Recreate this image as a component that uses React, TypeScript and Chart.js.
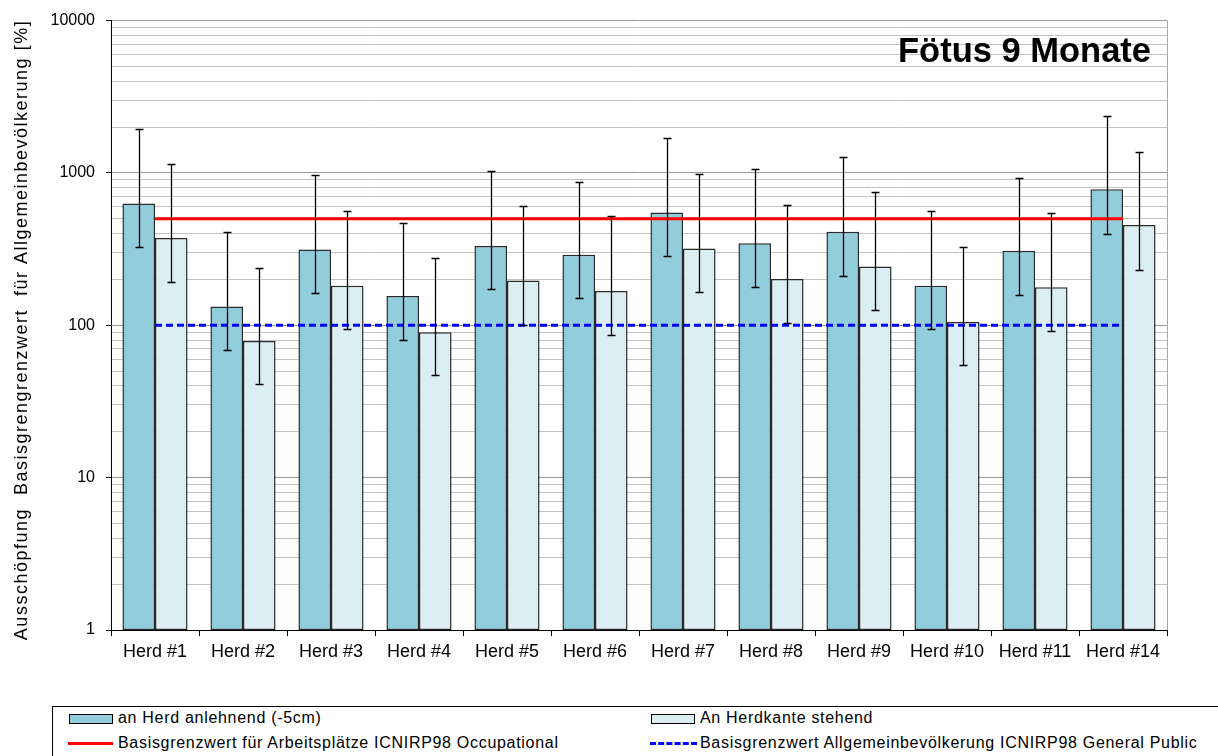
import React, { useEffect, useRef } from 'react';
import { Chart, registerables } from 'chart.js';

Chart.register(...registerables);

// ---- data ----
const categories = ['Herd #1', 'Herd #2', 'Herd #3', 'Herd #4', 'Herd #5', 'Herd #6', 'Herd #7', 'Herd #8', 'Herd #9', 'Herd #10', 'Herd #11', 'Herd #14'];

const anlehnend = [630, 133, 314, 156, 332, 290, 550, 345, 411, 182, 308, 782];
const anlehnendHigh = [1950, 411, 966, 471, 1025, 877, 1694, 1067, 1273, 562, 933, 2360];
const anlehnendLow = [325, 69, 162, 80, 172, 150, 284, 178, 212, 94, 159, 397];

const kante = [374, 79, 182, 90, 197, 168, 319, 201, 243, 105, 178, 455];
const kanteHigh = [1150, 239, 562, 278, 608, 521, 990, 618, 751, 325, 550, 1371];
const kanteLow = [193, 41, 94, 47, 101, 87, 165, 103, 126, 55, 92, 230];

const occupationalLimit = [500, 500, 500, 500, 500, 500, 500, 500, 500, 500, 500, 500];
const generalPublicLimit = [100, 100, 100, 100, 100, 100, 100, 100, 100, 100, 100, 100];

const yMajorTicks = [1, 10, 100, 1000, 10000];
const yMinorMultipliers = [2, 3, 4, 5, 6, 7, 8, 9];

const chartTitle = 'Fötus 9 Monate';
const yAxisTitle = 'Ausschöpfung  Basisgrengrenzwert  für Allgemeinbevölkerung [%]';
const labelAnlehnend = 'an Herd anlehnend (-5cm)';
const labelKante = 'An Herdkante stehend';
const labelOccupational = 'Basisgrenzwert für Arbeitsplätze ICNIRP98 Occupational';
const labelGeneral = 'Basisgrenzwert Allgemeinbevölkerung ICNIRP98 General Public';

const COLOR_DARK = '#92CDDC';
const COLOR_LIGHT = '#DAEEF3';
const FONT = '"Liberation Sans", Arial, Helvetica, sans-serif';

const isMajor = (v: number) => yMajorTicks.includes(v);

const errorBarPlugin = {
  id: 'errorBars',
  afterDatasetsDraw(chart: any) {
    const ctx = chart.ctx;
    const y = chart.scales.y;
    const sets: [number, number[], number[]][] = [
      [0, anlehnendHigh, anlehnendLow],
      [1, kanteHigh, kanteLow],
    ];
    ctx.save();
    ctx.strokeStyle = '#000';
    ctx.lineWidth = 1.3;
    sets.forEach(([di, his, los]) => {
      const meta = chart.getDatasetMeta(di);
      meta.data.forEach((bar: any, i: number) => {
        const x = Math.round(bar.x) + 0.5;
        const yt = Math.round(y.getPixelForValue(his[i])) + 0.5;
        const yb = Math.round(y.getPixelForValue(los[i])) + 0.5;
        ctx.beginPath();
        ctx.moveTo(x, yt);
        ctx.lineTo(x, yb);
        ctx.moveTo(x - 4, yt);
        ctx.lineTo(x + 4, yt);
        ctx.moveTo(x - 4, yb);
        ctx.lineTo(x + 4, yb);
        ctx.stroke();
      });
    });
    ctx.restore();
  },
};

const decorPlugin = {
  id: 'decor',
  afterDraw(chart: any) {
    const ctx = chart.ctx;
    const a = chart.chartArea;
    ctx.save();
    // right border of plot area
    ctx.strokeStyle = '#a6a6a6';
    ctx.lineWidth = 1;
    ctx.beginPath();
    ctx.moveTo(Math.round(a.right) + 0.5, a.top);
    ctx.lineTo(Math.round(a.right) + 0.5, a.bottom);
    ctx.stroke();
    // title inside plot
    ctx.fillStyle = '#000';
    ctx.font = `bold 34.5px ${FONT}`;
    ctx.textAlign = 'left';
    ctx.textBaseline = 'alphabetic';
    ctx.fillText(chartTitle, 898, 62);
    // y axis title
    ctx.translate(22, 330);
    ctx.rotate(-Math.PI / 2);
    ctx.font = `18px ${FONT}`;
    (ctx as any).letterSpacing = '1.5px';
    ctx.textAlign = 'center';
    ctx.textBaseline = 'middle';
    ctx.fillText(yAxisTitle, 0, 0);
    ctx.restore();
  },
};

function LegendSwatch({ color }: { color: string }) {
  return (
    <div style={{ position: 'absolute', width: 44, height: 10, background: color, border: '1px solid #000', boxSizing: 'border-box' }} />
  );
}

export default function App() {
  const canvasRef = useRef<HTMLCanvasElement | null>(null);

  useEffect(() => {
    const canvas = canvasRef.current;
    if (!canvas) return;
    const yTickValues: number[] = [];
    yMajorTicks.forEach((m) => {
      yTickValues.push(m);
      if (m < 10000) yMinorMultipliers.forEach((k) => yTickValues.push(m * k));
    });
    yTickValues.sort((p, q) => p - q);

    const barCommon = {
      type: 'bar',
      borderColor: '#2a2a2a',
      borderWidth: 1.5,
      borderSkipped: false,
      categoryPercentage: 0.74,
      barPercentage: 1,
      order: 2,
    };

    const chart = new Chart(canvas, {
      type: 'bar',
      data: {
        labels: categories,
        datasets: [
          { ...barCommon, label: labelAnlehnend, data: anlehnend, backgroundColor: COLOR_DARK } as any,
          { ...barCommon, label: labelKante, data: kante, backgroundColor: COLOR_LIGHT } as any,
          {
            type: 'line',
            label: labelOccupational,
            data: occupationalLimit,
            borderColor: '#FF0000',
            borderWidth: 3,
            pointRadius: 0,
            fill: false,
            order: 1,
          } as any,
          {
            type: 'line',
            label: labelGeneral,
            data: generalPublicLimit,
            borderColor: '#0000FF',
            borderWidth: 3,
            borderDash: [7, 4],
            pointRadius: 0,
            fill: false,
            order: 1,
          } as any,
        ],
      },
      options: {
        animation: false,
        responsive: false,
        events: [],
        layout: { padding: { left: 0, right: 51, top: 18, bottom: 0 } },
        plugins: {
          legend: { display: false },
          tooltip: { enabled: false },
          title: { display: false },
        },
        scales: {
          x: {
            type: 'category',
            offset: true,
            border: { color: '#000', width: 1 },
            grid: {
              offset: true,
              drawOnChartArea: false,
              drawTicks: true,
              tickLength: 6,
              tickColor: '#000',
              color: '#000',
            },
            ticks: {
              color: '#000',
              font: { family: FONT, size: 18 },
              padding: 5,
              autoSkip: false,
              maxRotation: 0,
              minRotation: 0,
            },
            afterFit: (scale: any) => {
              scale.height = 60;
            },
          },
          y: {
            type: 'logarithmic',
            min: 1,
            max: 10000,
            border: { color: '#000', width: 1 },
            grid: {
              color: (c: any) => (isMajor(c.tick?.value) ? '#999999' : '#c2c2c2'),
              tickColor: (c: any) => (isMajor(c.tick?.value) ? '#000' : 'rgba(0,0,0,0)'),
              tickLength: 5,
              drawTicks: true,
            },
            ticks: {
              color: '#000',
              font: { family: FONT, size: 16 },
              padding: 11,
              autoSkip: false,
              callback: (v: any) => (isMajor(Number(v)) ? String(v) : ''),
            },
            afterBuildTicks: (scale: any) => {
              scale.ticks = yTickValues.map((v) => ({ value: v, major: isMajor(v) }));
            },
            afterFit: (scale: any) => {
              scale.width = 111;
            },
          },
        },
      } as any,
      plugins: [errorBarPlugin, decorPlugin],
    });
    return () => chart.destroy();
  }, []);

  const textStyle: React.CSSProperties = {
    position: 'absolute',
    font: `16px ${FONT}`,
    letterSpacing: '0.7px',
    color: '#000',
    whiteSpace: 'nowrap',
    lineHeight: '18px',
  };

  return (
    <div style={{ position: 'fixed', left: 0, top: 0, width: 1218, height: 756, background: '#fff', overflow: 'hidden' }}>
      <canvas ref={canvasRef} width={1218} height={690} style={{ position: 'absolute', left: 0, top: 0, display: 'block' }} />
      <div style={{ position: 'absolute', left: 52, top: 706, width: 1200, height: 100, border: '1px solid #000', boxSizing: 'border-box' }} />
      {/* row 1 */}
      <div style={{ position: 'absolute', left: 69, top: 714 }}><LegendSwatch color={COLOR_DARK} /></div>
      <div style={{ ...textStyle, left: 118, top: 709 }}>{labelAnlehnend}</div>
      <div style={{ position: 'absolute', left: 651, top: 714 }}><LegendSwatch color={COLOR_LIGHT} /></div>
      <div style={{ ...textStyle, left: 700, top: 709 }}>{labelKante}</div>
      {/* row 2 */}
      <div style={{ position: 'absolute', left: 68, top: 742, width: 45, height: 3, background: '#FF0000' }} />
      <div style={{ ...textStyle, left: 118, top: 734 }}>{labelOccupational}</div>
      <div style={{ position: 'absolute', left: 650, top: 742, width: 47, height: 0, borderTop: '3px dashed #0000FF' }} />
      <div style={{ ...textStyle, left: 700, top: 734 }}>{labelGeneral}</div>
    </div>
  );
}
